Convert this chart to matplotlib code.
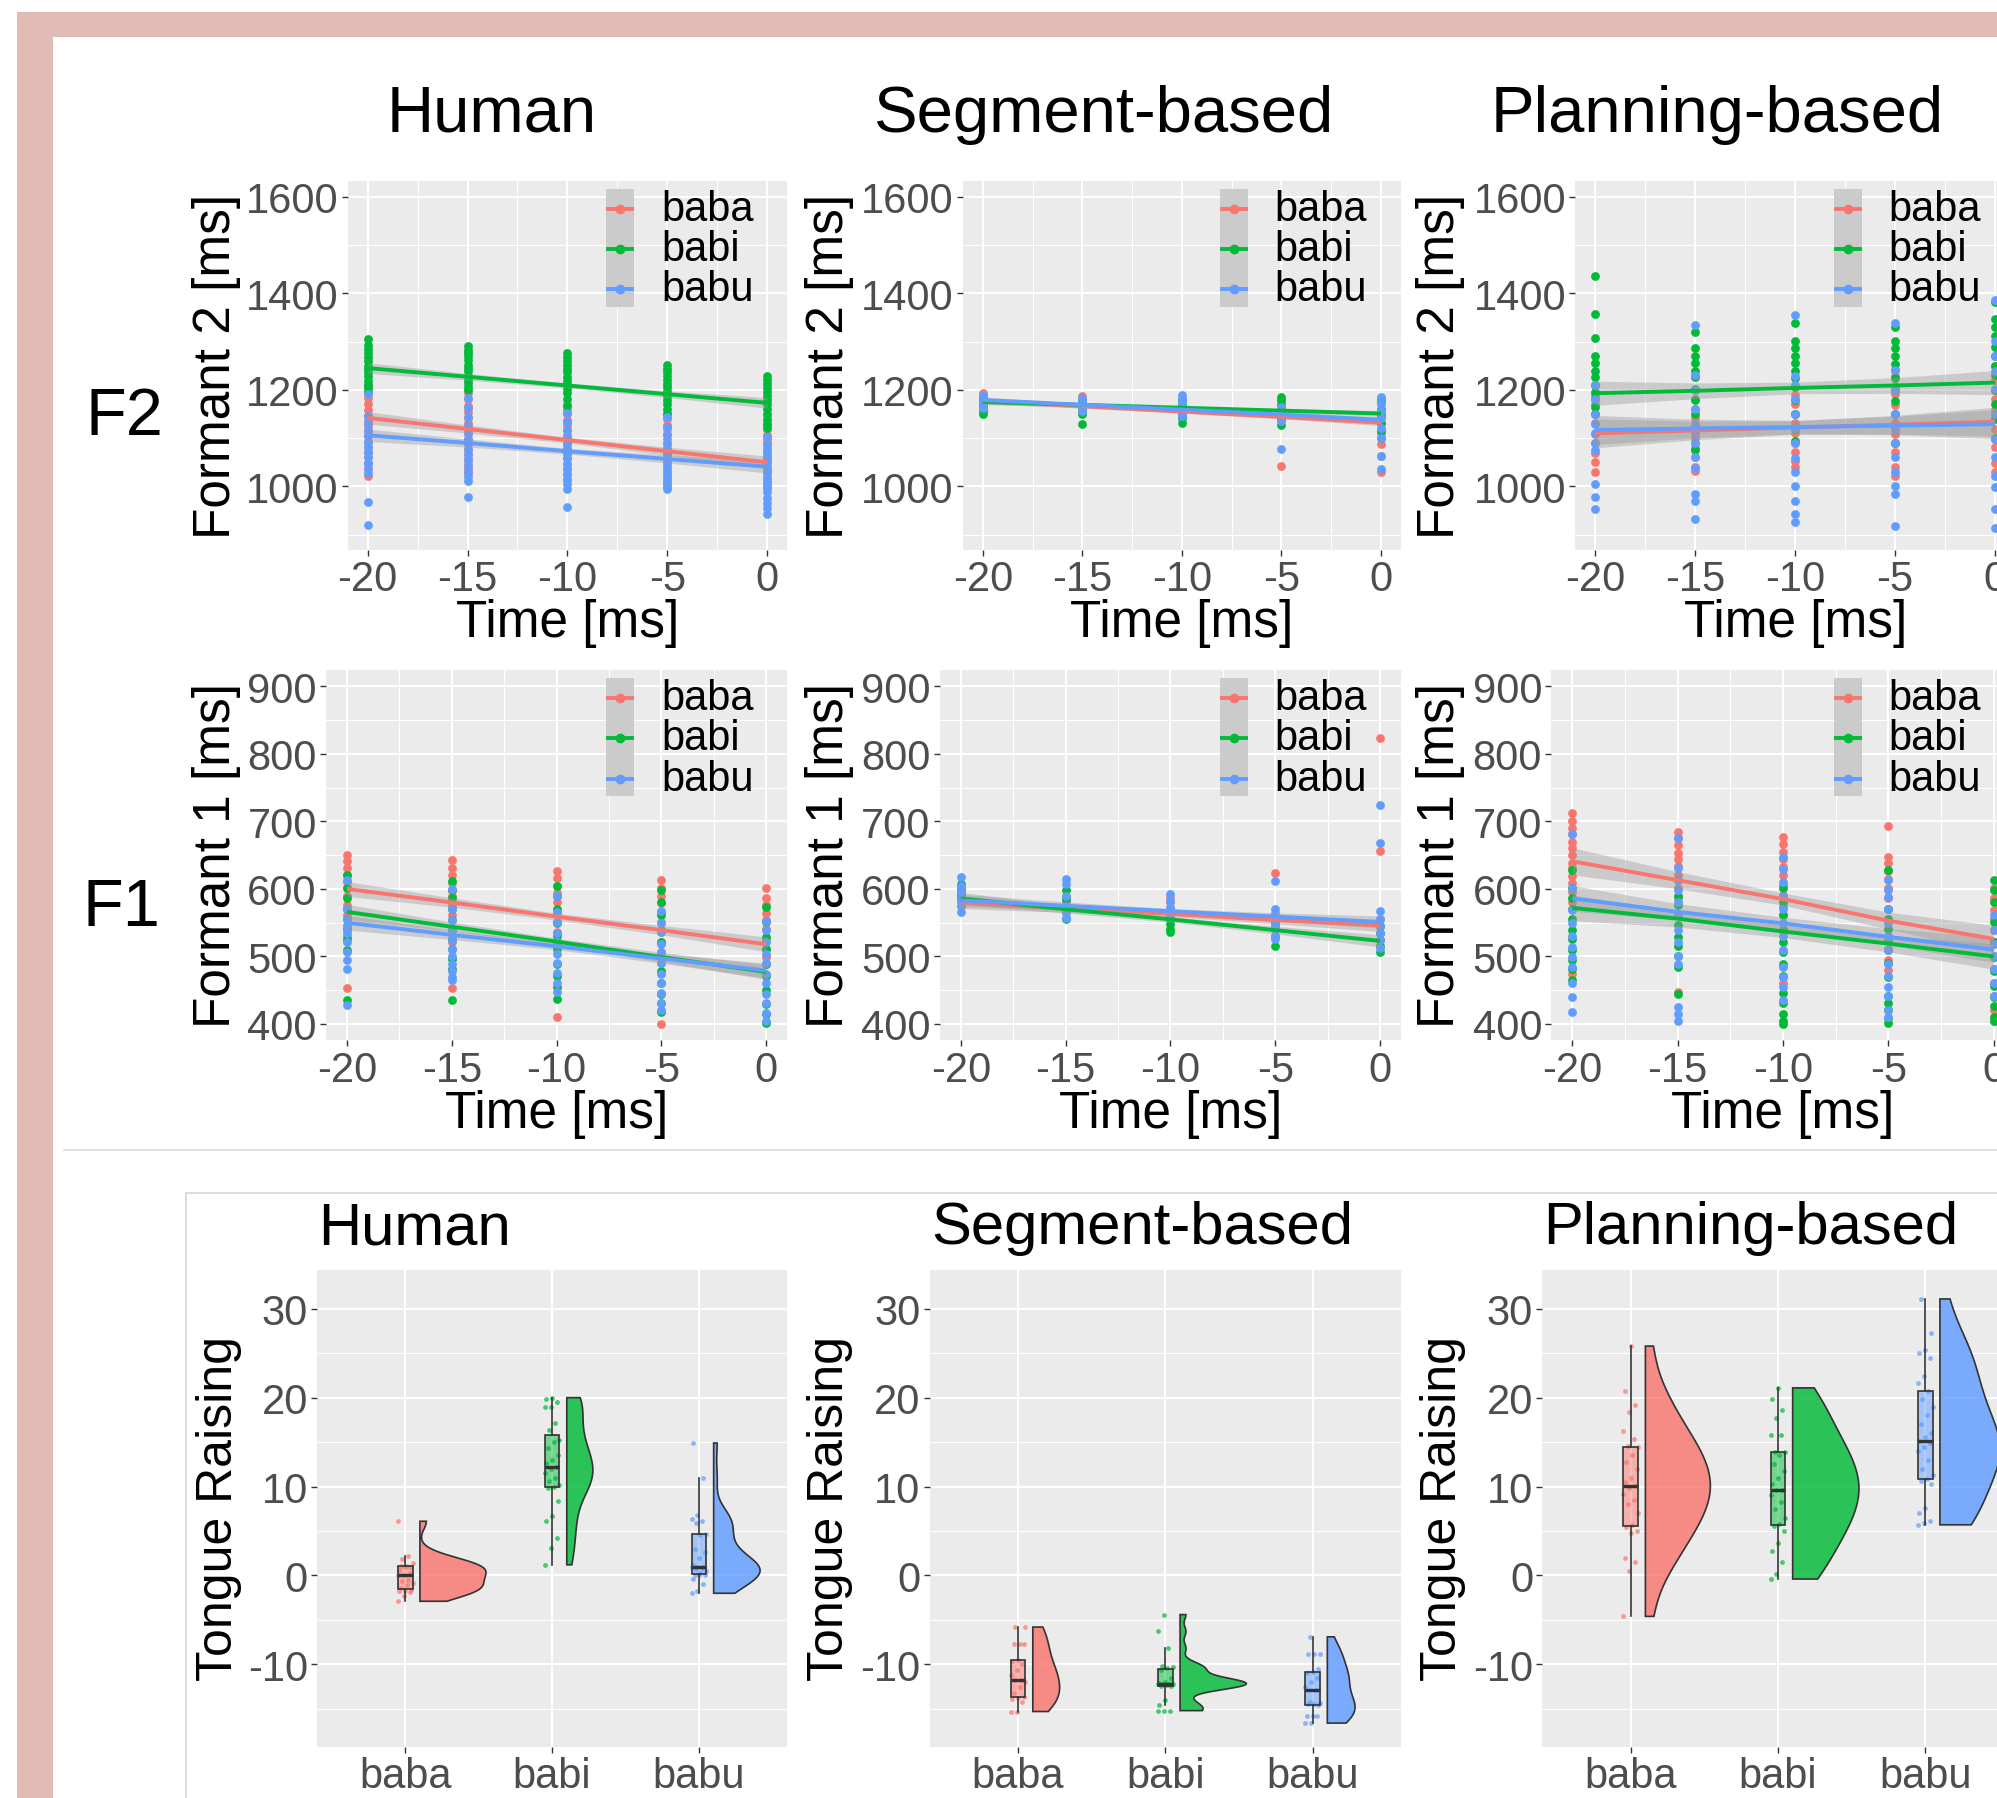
import numpy as np
import matplotlib
matplotlib.use("Agg")
import matplotlib.pyplot as plt
from matplotlib.patches import Rectangle, Polygon
from matplotlib.lines import Line2D
from matplotlib.colors import to_rgba

plt.rcParams["font.family"] = ["Liberation Sans", "DejaVu Sans"]
plt.rcParams["axes.unicode_minus"] = False

# ---- data -------------------------------------------------------------
times = [-20, -15, -10, -5, 0]
time_labels = ["-20", "-15", "-10", "-5", "0"]
groups = ["baba", "babi", "babu"]
colors = ["#F8766D", "#00BA38", "#619CFF"]
models = ["Human", "Segment-based", "Planning-based"]
f2_ticks = [1000, 1200, 1400, 1600]
f1_ticks = [400, 500, 600, 700, 800, 900]
tr_ticks = [-10, 0, 10, 20, 30]

# formant 2 measurements, one list per time step
human_f2_baba = [
    [1209, 1196, 1183, 1171, 1158, 1146, 1136, 1125, 1113, 1104, 1093, 1082, 1071, 1061, 1048, 1037, 1022],
    [1193, 1181, 1167, 1154, 1142, 1131, 1121, 1109, 1098, 1088, 1077, 1068, 1057, 1046, 1036, 1027],
    [1171, 1158, 1149, 1138, 1128, 1117, 1107, 1098, 1087, 1078, 1067, 1058, 1047, 1036, 1026, 1013],
    [1152, 1140, 1128, 1119, 1108, 1098, 1088, 1079, 1068, 1057, 1048, 1038, 1027, 1017, 1008, 998],
    [1141, 1128, 1118, 1107, 1097, 1089, 1078, 1069, 1058, 1049, 1037, 1027, 1016, 1005, 996],
]
human_f2_babi = [
    [1305, 1292, 1284, 1276, 1268, 1259, 1250, 1243, 1236, 1228, 1219, 1211, 1203, 1196],
    [1290, 1283, 1276, 1269, 1261, 1252, 1246, 1238, 1229, 1221, 1214, 1206, 1199],
    [1276, 1268, 1259, 1251, 1244, 1236, 1227, 1219, 1211, 1202, 1193, 1181, 1166],
    [1252, 1244, 1237, 1229, 1221, 1213, 1206, 1197, 1188, 1179, 1170, 1161, 1150],
    [1229, 1221, 1213, 1204, 1196, 1188, 1179, 1170, 1160, 1149, 1138, 1129, 1121],
]
human_f2_babu = [
    [1192, 1146, 1131, 1117, 1104, 1093, 1082, 1071, 1060, 1049, 1038, 1028, 968, 921],
    [1183, 1162, 1143, 1126, 1112, 1098, 1087, 1076, 1065, 1054, 1043, 1031, 1020, 1011, 979],
    [1152, 1133, 1117, 1103, 1091, 1080, 1069, 1058, 1047, 1036, 1026, 1016, 1006, 994, 958],
    [1143, 1124, 1106, 1091, 1078, 1066, 1055, 1044, 1033, 1022, 1012, 1003, 995],
    [1102, 1086, 1074, 1063, 1052, 1041, 1031, 1020, 1010, 999, 988, 977, 966, 956, 944],
]
seg_f2_baba = [
    [1193, 1185, 1177, 1170, 1164],
    [1187, 1180, 1172, 1164, 1157],
    [1181, 1170, 1161, 1150],
    [1161, 1150, 1139, 1042],
    [1150, 1131, 1110, 1088, 1063, 1029],
]
seg_f2_babi = [
    [1181, 1173, 1164, 1157, 1149],
    [1176, 1166, 1158, 1149, 1130],
    [1178, 1166, 1151, 1141, 1132],
    [1186, 1178, 1170, 1161, 1151, 1140, 1128],
    [1183, 1175, 1161, 1146, 1131, 1115, 1100],
]
seg_f2_babu = [
    [1190, 1182, 1176, 1168, 1162],
    [1184, 1176, 1170, 1163, 1157],
    [1190, 1181, 1171, 1160, 1151, 1145],
    [1165, 1155, 1146, 1136, 1078],
    [1186, 1171, 1156, 1141, 1121, 1100, 1063, 1036],
]
plan_f2_baba = [
    [1211, 1190, 1171, 1149, 1131, 1109, 1091, 1069, 1050, 1030],
    [1199, 1181, 1160, 1141, 1121, 1100, 1079, 1061, 1041, 1032],
    [1189, 1171, 1149, 1131, 1110, 1090, 1071, 1052, 1040],
    [1229, 1208, 1191, 1169, 1150, 1131, 1109, 1090, 1071, 1041, 1021],
    [1249, 1221, 1199, 1181, 1159, 1141, 1120, 1099, 1081, 1049, 1031],
]
plan_f2_babi = [
    [1436, 1357, 1307, 1271, 1256, 1239, 1226, 1209, 1196, 1181, 1164, 1151],
    [1320, 1286, 1269, 1256, 1239, 1226, 1201, 1179, 1151, 1121, 1091, 1075],
    [1338, 1301, 1286, 1269, 1256, 1239, 1224, 1206, 1180, 1151, 1119, 1095],
    [1331, 1301, 1286, 1271, 1254, 1241, 1224, 1199, 1176, 1149, 1121, 1090],
    [1381, 1346, 1329, 1311, 1289, 1271, 1249, 1231, 1199, 1171, 1139, 1101],
]
plan_f2_babu = [
    [1209, 1181, 1151, 1129, 1111, 1089, 1076, 1005, 978, 953],
    [1335, 1231, 1199, 1161, 1129, 1111, 1089, 1061, 1039, 985, 971, 933],
    [1355, 1229, 1209, 1181, 1149, 1121, 1091, 1059, 1031, 1000, 971, 943, 926],
    [1338, 1241, 1199, 1151, 1119, 1091, 1061, 1029, 1001, 985, 919],
    [1386, 1301, 1269, 1239, 1201, 1149, 1099, 1061, 1021, 999, 953, 915],
]

# formant 1 measurements
human_f1_baba = [
    [651, 641, 631, 621, 611, 601, 589, 576, 561, 546, 531, 453],
    [643, 631, 621, 609, 599, 589, 576, 561, 541, 521, 453],
    [627, 616, 604, 594, 581, 566, 551, 536, 519, 410],
    [614, 601, 589, 579, 566, 551, 536, 521, 506, 491, 400],
    [602, 586, 576, 564, 554, 541, 526, 511, 499, 489],
]
human_f1_babi = [
    [621, 601, 586, 571, 556, 541, 526, 509, 435],
    [612, 599, 586, 571, 554, 539, 526, 511, 496, 481, 435],
    [605, 589, 571, 549, 531, 511, 489, 471, 455, 437],
    [598, 581, 561, 539, 521, 499, 479, 461, 445, 431, 417],
    [573, 551, 529, 511, 489, 471, 451, 429, 415, 402],
]
human_f1_babu = [
    [613, 571, 556, 544, 534, 521, 506, 494, 481, 428],
    [600, 571, 554, 541, 524, 511, 501, 489, 479, 469, 465],
    [590, 566, 551, 534, 521, 504, 491, 476, 461, 448],
    [568, 549, 536, 519, 506, 491, 474, 461, 446, 431, 420],
    [553, 539, 521, 504, 491, 474, 461, 444, 431, 416, 405],
]
seg_f1_baba = [
    [595, 588, 581, 575],
    [590, 582, 575, 568],
    [587, 580, 571, 562],
    [623, 565, 555, 545],
    [823, 656, 556, 545, 535, 525],
]
seg_f1_babi = [
    [607, 600, 593, 585],
    [599, 585, 570, 556],
    [565, 555, 548, 541, 536],
    [550, 540, 530, 515],
    [545, 535, 525, 515, 507],
]
seg_f1_babu = [
    [617, 605, 595, 585, 575, 566],
    [615, 608, 590, 575, 565, 557],
    [592, 582, 573, 565, 558],
    [612, 570, 560, 550, 540, 530, 526],
    [724, 668, 568, 555, 545, 535, 525, 512],
]
plan_f1_baba = [
    [712, 701, 690, 681, 669, 660, 651, 639, 631, 619, 609, 596, 581, 474],
    [685, 676, 665, 654, 645, 634, 621, 601, 586, 447],
    [677, 666, 655, 644, 632, 621, 606, 591, 574, 561, 541, 460],
    [694, 648, 638, 627, 615, 601, 586, 571, 556, 531, 511, 494, 480],
    [601, 586, 569, 556, 539, 521, 501, 481, 461, 441, 421, 405],
]
plan_f1_babi = [
    [628, 601, 586, 571, 556, 539, 526, 509, 494, 481, 465],
    [613, 589, 576, 561, 546, 529, 516, 501, 484, 445],
    [601, 581, 561, 539, 521, 506, 489, 471, 446, 431, 415, 405, 400],
    [628, 571, 556, 541, 524, 509, 491, 469, 441, 431, 421, 409, 402],
    [613, 599, 581, 551, 521, 499, 479, 456, 440, 426, 411, 405],
]
plan_f1_babu = [
    [682, 601, 569, 549, 531, 514, 499, 484, 461, 440, 417],
    [675, 631, 614, 599, 581, 561, 539, 521, 501, 489, 425, 415, 405],
    [648, 629, 611, 589, 571, 549, 531, 509, 484, 469, 455, 435],
    [613, 599, 588, 571, 549, 531, 509, 489, 471, 454, 441, 421, 410],
    [561, 539, 519, 501, 481, 461, 441],
]

# smoothed trend (value at each time step) and confidence half-width [middle, ends]
human_f2_fit = [[1142, 1119, 1096, 1073, 1050], [1245, 1227, 1209, 1191, 1173], [1106, 1090, 1073, 1057, 1041]]
seg_f2_fit = [[1177, 1166, 1155, 1144, 1132], [1175, 1169, 1163, 1157, 1151], [1179, 1169, 1159, 1149, 1138]]
plan_f2_fit = [[1110, 1116, 1122, 1128, 1134], [1193, 1198, 1204, 1209, 1215], [1117, 1120, 1123, 1126, 1129]]
human_f1_fit = [[600, 580, 559, 539, 518], [566, 544, 522, 499, 477], [550, 532, 515, 497, 479]]
seg_f1_fit = [[580, 571, 563, 554, 546], [586, 570, 555, 539, 523], [583, 575, 567, 559, 551]]
plan_f1_fit = [[641, 613, 585, 553, 526], [572, 556, 537, 519, 500], [586, 566, 549, 529, 510]]
human_f2_ci = [[6, 13], [5, 11], [6, 13]]
seg_f2_ci = [[3, 6], [3, 6], [3, 6]]
plan_f2_ci = [[14, 30], [12, 25], [14, 30]]
human_f1_ci = [[5, 11], [5, 11], [5, 11]]
seg_f1_ci = [[4, 9], [4, 9], [4, 9]]
plan_f1_ci = [[9, 20], [9, 19], [9, 19]]

# tongue raising values
rain_human_baba = [-2.9, -2.3, -1.9, -1.8, -1.7, -1.65, -1.4, -1.1, -0.8, -0.6, -0.5, 0.1, 0.1, 0.3, 0.6, 0.9, 1.0, 1.05, 1.1, 1.4, 1.8, 2.2, 6.1]
rain_human_babi = [1.2, 3.1, 4.2, 6.1, 6.7, 8.4, 9.8, 10.0, 10.2, 10.6, 11.0, 11.5, 12.0, 12.2, 12.6, 13.0, 13.5, 14.3, 15.0, 15.2, 16.4, 17.2, 19.0, 19.0, 19.5, 19.8, 20.0]
rain_human_babu = [-2.0, -1.8, -1.0, -0.4, 0.0, 0.1, 0.1, 0.3, 0.5, 0.7, 0.8, 0.9, 0.9, 1.0, 1.2, 2.0, 2.6, 3.0, 4.6, 4.7, 5.9, 6.1, 6.3, 6.8, 11.0, 14.9]
rain_seg_baba = [-15.3, -15.3, -14.2, -13.9, -13.8, -13.7, -13.2, -12.5, -12.0, -11.8, -11.7, -11.2, -10.6, -10.0, -9.6, -9.5, -7.7, -7.7, -7.7, -5.8, -5.8]
rain_seg_babi = [-15.2, -15.2, -15.2, -14.6, -14.0, -12.4, -12.4, -12.3, -12.2, -12.2, -12.2, -12.2, -12.2, -12.2, -12.1, -12.0, -11.5, -10.6, -10.4, -10.3, -10.2, -8.2, -6.3, -4.4]
rain_seg_babu = [-16.6, -16.6, -15.8, -15.8, -15.8, -14.6, -14.5, -14.4, -14.3, -14.2, -12.9, -12.5, -12.0, -11.5, -11.0, -10.9, -10.5, -8.8, -8.8, -8.8, -6.9]
rain_plan_baba = [-4.6, 0.5, 1.5, 2.0, 4.8, 5.0, 5.5, 5.7, 7.0, 8.0, 8.5, 9.2, 9.8, 10.1, 10.5, 11.0, 12.0, 12.8, 13.5, 14.4, 14.6, 15.3, 16.2, 18.4, 19.2, 20.8, 25.8]
rain_plan_babi = [-0.4, 0.2, 1.5, 2.8, 3.7, 5.0, 5.6, 5.8, 6.5, 7.5, 8.3, 9.0, 9.6, 9.6, 10.3, 11.0, 11.8, 12.5, 13.5, 13.9, 13.9, 15.8, 15.8, 17.7, 18.6, 19.8, 21.1]
rain_plan_babu = [5.7, 5.9, 6.1, 7.0, 7.6, 10.3, 10.6, 10.9, 11.3, 12.0, 13.0, 14.0, 14.5, 14.9, 15.1, 15.6, 16.0, 17.0, 18.0, 19.0, 19.8, 20.7, 21.7, 22.4, 24.5, 25.0, 25.4, 27.3, 31.1]

# ---- layout helpers (positions in a 1568 x 1413 grid) ---------------
W, H = 1568.0, 1413.0


def fx(x):
    return x / W


def fy(y):
    return 1 - y / H


fig = plt.figure(figsize=(19.97, 17.99), dpi=100)

# pink frame, separator and lower box
fig.add_artist(Rectangle((fx(13.3), -0.1), 1, fy(10.2) + 0.1, transform=fig.transFigure,
                         facecolor="#e0bcb4", edgecolor="none", zorder=-10))
fig.add_artist(Rectangle((fx(41.5), -0.1), 1, fy(29.8) + 0.1, transform=fig.transFigure,
                         facecolor="white", edgecolor="none", zorder=-9))
fig.add_artist(Line2D([fx(50), 1.0], [fy(904), fy(904)], transform=fig.transFigure,
                      color="#dcdcdc", lw=1.2, zorder=-8))
fig.add_artist(Rectangle((fx(146), -0.1), 1, fy(938) + 0.1, transform=fig.transFigure,
                         facecolor="none", edgecolor="#d4d4d4", lw=1.2, zorder=-8))


def add_panel(x0, y0, x1, y1):
    ax = fig.add_axes([fx(x0), fy(y1), fx(x1) - fx(x0), fy(y0) - fy(y1)])
    ax.set_facecolor("#EBEBEB")
    for s in ax.spines.values():
        s.set_visible(False)
    ax.set_axisbelow(True)
    ax.tick_params(which="major", length=4.6, width=1.0, color="#333333",
                   labelsize=30, labelcolor="#4D4D4D", pad=2)
    ax.tick_params(which="minor", length=0)
    return ax


def formant_panel(x0, y0, x1, y1, ylim, yticks, minor_y, pts, fit, ci):
    ax = add_panel(x0, y0, x1, y1)
    ax.grid(True, which="major", color="white", lw=1.5)
    ax.grid(True, which="minor", color="white", lw=0.75)
    for series, c in zip(pts, colors):
        xs = np.repeat(times, [len(v) for v in series])
        ys = np.concatenate(series)
        ax.scatter(xs, ys, s=40, color=c, lw=0, zorder=2)
    tt = np.array(times, dtype=float)
    for line, (mid, end), c in zip(fit, ci, colors):
        line = np.array(line, dtype=float)
        hw = np.sqrt(mid ** 2 + (end ** 2 - mid ** 2) * ((tt + 10) / 10) ** 2)
        ax.fill_between(tt, line - hw, line + hw, color="#999999", alpha=0.4, lw=0, zorder=3)
    for line, c in zip(fit, colors):
        ax.plot(times, line, color=c, lw=2.8, zorder=4, solid_capstyle="butt")
    ax.set_xlim(-21, 1)
    ax.set_ylim(*ylim)
    ax.set_xticks(times)
    ax.set_xticklabels(time_labels)
    ax.set_xticks([-17.5, -12.5, -7.5, -2.5], minor=True)
    ax.set_yticks(yticks)
    ax.set_yticks(minor_y, minor=True)

    # legend drawn inside the panel
    w = x1 - x0
    k0, k1, lab = 1 - 142 / w, 1 - 120 / w, 1 - 99 / w
    ax.add_patch(Rectangle((k0, 0.659), k1 - k0, 0.32, transform=ax.transAxes,
                           facecolor="#cbcbcb", edgecolor="none", zorder=5))
    for yy, g, c in zip([0.924, 0.817, 0.707], groups, colors):
        ax.plot([k0 + 0.004, k1 - 0.004], [yy, yy], transform=ax.transAxes, color=c, lw=2.8, zorder=6)
        ax.plot([(k0 + k1) / 2], [yy], "o", ms=6, color=c, transform=ax.transAxes, zorder=7)
        ax.text(lab, yy, g, transform=ax.transAxes, fontsize=30, va="center", ha="left", zorder=7)
    return ax


# ---- top: formant trajectories --------------------------------------
f2_cols = [(273, 618), (756, 1100), (1237, 1582)]
f1_cols = [(256, 618), (738, 1100), (1218, 1582)]
ylab_x = [170, 651, 1131]
title_x = [386, 867, 1348]

f2_sets = [
    ([human_f2_baba, human_f2_babi, human_f2_babu], human_f2_fit, human_f2_ci),
    ([seg_f2_baba, seg_f2_babi, seg_f2_babu], seg_f2_fit, seg_f2_ci),
    ([plan_f2_baba, plan_f2_babi, plan_f2_babu], plan_f2_fit, plan_f2_ci),
]
f1_sets = [
    ([human_f1_baba, human_f1_babi, human_f1_babu], human_f1_fit, human_f1_ci),
    ([seg_f1_baba, seg_f1_babi, seg_f1_babu], seg_f1_fit, seg_f1_ci),
    ([plan_f1_baba, plan_f1_babi, plan_f1_babu], plan_f1_fit, plan_f1_ci),
]

for i in range(3):
    x0, x1 = f2_cols[i]
    pts, fit, ci = f2_sets[i]
    formant_panel(x0, 143, x1, 433, (868, 1632), f2_ticks, [900, 1100, 1300, 1500], pts, fit, ci)
    fig.text(fx((x0 + x1) / 2), fy(490), "Time [ms]", fontsize=37, ha="center", va="center")
    fig.text(fx(ylab_x[i]), fy(288), "Formant 2 [ms]", fontsize=37, rotation=90, ha="center", va="center")

    x0, x1 = f1_cols[i]
    pts, fit, ci = f1_sets[i]
    formant_panel(x0, 527, x1, 818, (375.5, 924.5), f1_ticks, [450, 550, 650, 750, 850], pts, fit, ci)
    fig.text(fx((x0 + x1) / 2), fy(875), "Time [ms]", fontsize=37, ha="center", va="center")
    fig.text(fx(ylab_x[i]), fy(672), "Formant 1 [ms]", fontsize=37, rotation=90, ha="center", va="center")

    fig.text(fx(title_x[i]), fy(90), models[i], fontsize=47, ha="center", va="center")

fig.text(fx(98), fy(328), "F2", fontsize=48, ha="center", va="center")
fig.text(fx(95), fy(714), "F1", fontsize=48, ha="center", va="center")

# ---- bottom: raincloud plots -----------------------------------------
rain_cols = [(249, 618), (730, 1100), (1211, 1581)]
rain_ylab_x = [172, 652, 1133]
rain_sets = [
    [rain_human_baba, rain_human_babi, rain_human_babu],
    [rain_seg_baba, rain_seg_babi, rain_seg_babu],
    [rain_plan_baba, rain_plan_babi, rain_plan_babu],
]

for i in range(3):
    x0, x1 = rain_cols[i]
    ax = add_panel(x0, 998, x1, 1373)
    ax.grid(True, which="major", color="white", lw=1.5)
    ax.yaxis.grid(True, which="minor", color="white", lw=0.75)
    ax.set_xlim(0.4, 3.6)
    ax.set_ylim(-19.3, 34.4)
    ax.set_yticks(tr_ticks)
    ax.set_yticklabels([str(t) for t in tr_ticks])
    ax.set_yticks([-15, -5, 5, 15, 25], minor=True)
    ax.set_xticks([1, 2, 3])
    ax.set_xticklabels(groups)

    # kernel densities (gaussian, nrd0 bandwidth), trimmed to data range
    dens = []
    for vals in rain_sets[i]:
        v = np.array(vals, dtype=float)
        n = len(v)
        q75, q25 = np.percentile(v, [75, 25])
        bw = 0.9 * min(v.std(ddof=1), (q75 - q25) / 1.34) * n ** -0.2
        grid = np.linspace(v.min(), v.max(), 512)
        d = np.exp(-0.5 * ((grid[:, None] - v[None, :]) / bw) ** 2).sum(1) / (n * bw * np.sqrt(2 * np.pi))
        dens.append((grid, d))
    dmax = max(d.max() for _, d in dens)

    for k, ((grid, d), vals, c) in enumerate(zip(dens, rain_sets[i], colors)):
        pos = k + 1
        base = pos + 0.1
        xv = base + 0.45 * d / dmax
        poly = np.column_stack([np.r_[base, xv, base], np.r_[grid[0], grid, grid[-1]]])
        ax.add_patch(Polygon(poly, closed=True, facecolor=to_rgba(c, 0.82),
                             edgecolor="#333333", lw=1.2, zorder=3))

        offs = np.array([((j * 37) % 11 - 5) / 100 for j in range(len(vals))])
        ax.scatter(pos + offs, vals, s=12, color=c, alpha=0.7, lw=0, zorder=4)

        bp = ax.boxplot([vals], positions=[pos], widths=0.1, patch_artist=True, showfliers=False,
                        whis=1.5, manage_ticks=False, zorder=5,
                        boxprops=dict(edgecolor="#333333", lw=1.2),
                        whiskerprops=dict(color="#333333", lw=1.2),
                        capprops=dict(visible=False),
                        medianprops=dict(color="#333333", lw=2.4))
        bp["boxes"][0].set_facecolor(to_rgba(c, 0.5))

    fig.text(fx(x0 + 1), fy(965), models[i], fontsize=43, ha="left", va="center")
    fig.text(fx(rain_ylab_x[i]), fy(1185), "Tongue Raising", fontsize=36, rotation=90,
             ha="center", va="center")

fig.savefig("out.png", dpi=100)
